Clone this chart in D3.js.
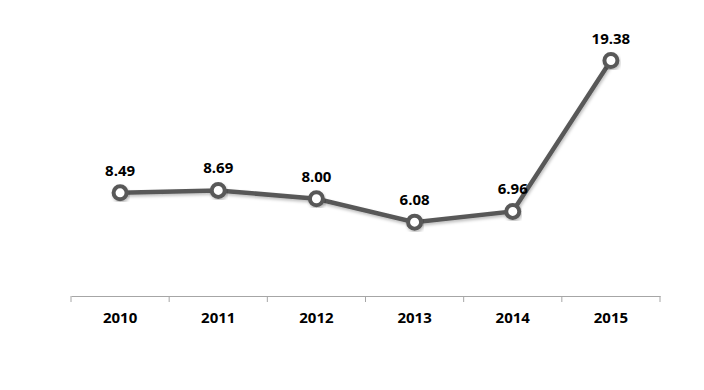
<!DOCTYPE html>
<html>
<head>
<meta charset="utf-8">
<script src="https://cdn.jsdelivr.net/npm/d3@7"></script>
<style>
  body { margin: 0; background: #fff; }
  text { font-family: "Open Sans", "Liberation Sans", sans-serif; font-weight: bold; }
</style>
</head>
<body>
<div id="chart"></div>
<script>
// data
var years = ["2010", "2011", "2012", "2013", "2014", "2015"];
var values = [8.49, 8.69, 8.00, 6.08, 6.96, 19.38];

var width = 704, height = 390;

var svg = d3.select("#chart")
  .append("svg")
    .attr("width", width)
    .attr("height", height);

// soft shadow like the original
var defs = svg.append("defs");
var f = defs.append("filter").attr("id", "shadow")
  .attr("x", "-20%").attr("y", "-20%").attr("width", "140%").attr("height", "140%");
f.append("feDropShadow")
  .attr("dx", 1).attr("dy", 2).attr("stdDeviation", 1.5)
  .attr("flood-color", "#000").attr("flood-opacity", 0.25);

// x scale
var x = d3.scaleBand()
  .domain(years)
  .range([71, 660]);

// y scale
var y = d3.scaleLinear()
  .domain([0, 20])
  .range([296, 53]);

// x axis
var xAxis = svg.append("g")
  .attr("transform", "translate(0,296)")
  .call(d3.axisBottom(x).tickSize(0).tickPadding(16));
xAxis.select(".domain").attr("stroke", "#a6a6a6").attr("stroke-width", 1);
xAxis.selectAll("text")
  .attr("font-size", 15)
  .attr("fill", "#000")
  .style("font-family", "'Open Sans', sans-serif")
  .style("font-weight", "bold");

// tick marks between categories
var bounds = years.map(function(d) { return x(d); }).concat([x.range()[1]]);
xAxis.selectAll(".sep")
  .data(bounds)
  .enter().append("line")
    .attr("class", "sep")
    .attr("x1", function(d) { return d; })
    .attr("x2", function(d) { return d; })
    .attr("y1", 0)
    .attr("y2", 6)
    .attr("stroke", "#a6a6a6");

var cx = function(d, i) { return x(years[i]) + x.bandwidth() / 2; };

// line
var line = d3.line()
  .x(function(d, i) { return x(years[i]) + x.bandwidth() / 2; })
  .y(function(d) { return y(d); });

svg.append("path")
  .datum(values)
  .attr("d", line)
  .attr("fill", "none")
  .attr("stroke", "#595959")
  .attr("stroke-width", 4.5)
  .attr("filter", "url(#shadow)");

// markers
svg.selectAll(".dot")
  .data(values)
  .enter().append("circle")
    .attr("class", "dot")
    .attr("cx", cx)
    .attr("cy", function(d) { return y(d); })
    .attr("r", 6.5)
    .attr("fill", "#fff")
    .attr("stroke", "#595959")
    .attr("stroke-width", 4)
    .attr("filter", "url(#shadow)");

// labels
svg.selectAll(".lbl")
  .data(values)
  .enter().append("text")
    .attr("class", "lbl")
    .attr("x", cx)
    .attr("y", function(d) { return y(d) - 17; })
    .attr("text-anchor", "middle")
    .attr("font-size", 15)
    .attr("fill", "#000")
    .text(function(d) { return d.toFixed(2); });
</script>
</body>
</html>
